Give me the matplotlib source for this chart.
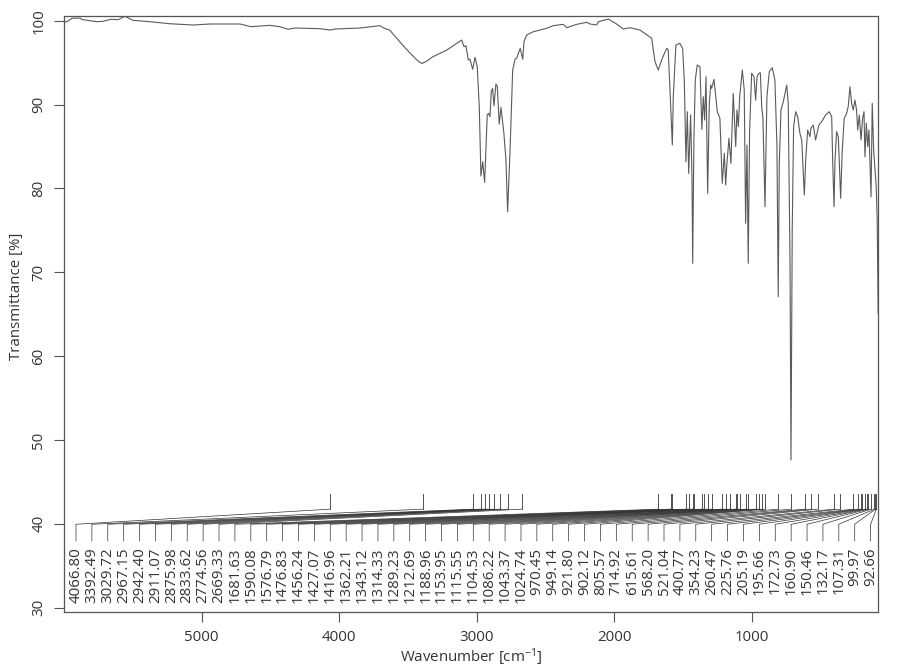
import matplotlib
matplotlib.use('Agg')
import matplotlib.pyplot as plt
import numpy as np

plt.rcParams['font.family'] = ['Open Sans', 'DejaVu Sans']
plt.rcParams['mathtext.default'] = 'regular'

# ---- spectrum (wavenumber in cm-1, transmittance in %) ----
wavenumber = [
    6000, 5980, 5943, 5885, 5870, 5812, 5761, 5718, 5660, 5609,
    5558, 5500, 5354, 5231, 5063, 4940, 4721, 4641, 4503, 4431,
    4372, 4322, 4140, 4067, 4031, 3849, 3703, 3681, 3631, 3558,
    3485, 3427, 3398, 3362, 3318, 3216, 3109, 3092, 3078, 3061,
    3049, 3029, 3012, 2996, 2981, 2969, 2956, 2942, 2923, 2913,
    2903, 2894, 2884, 2874, 2860, 2850, 2836, 2823, 2802, 2787,
    2775, 2758, 2738, 2721, 2709, 2697, 2683, 2665, 2656, 2636,
    2588, 2491, 2443, 2370, 2345, 2273, 2200, 2176, 2127, 2116,
    2043, 1982, 1934, 1885, 1812, 1727, 1703, 1679, 1655, 1618,
    1607, 1594, 1577, 1570, 1551, 1522, 1502, 1490, 1478, 1468,
    1458, 1444, 1434, 1429, 1420, 1410, 1396, 1376, 1362, 1352,
    1342, 1332, 1320, 1308, 1298, 1291, 1274, 1250, 1231, 1214,
    1199, 1189, 1180, 1165, 1151, 1134, 1116, 1107, 1097, 1087,
    1068, 1054, 1044, 1034, 1025, 1015, 1000, 983, 971, 961,
    947, 937, 927, 918, 903, 889, 872, 850, 831, 816,
    807, 799, 787, 770, 745, 734, 721, 714, 705, 695,
    680, 665, 649, 636, 617, 607, 593, 576, 569, 552,
    535, 511, 491, 462, 436, 418, 411, 401, 394, 382,
    370, 363, 353, 341, 327, 309, 298, 285, 273, 261,
    249, 237, 229, 217, 205, 193, 183, 176, 166, 156,
    147, 132, 123, 113, 103, 94, 87, 80,
]
transmittance = [
    99.91, 99.88, 100.29, 100.32, 100.14, 100.00, 99.88, 99.93, 100.17, 100.12,
    100.53, 100.05, 99.85, 99.64, 99.49, 99.61, 99.61, 99.29, 99.45, 99.29,
    98.98, 99.13, 99.05, 98.89, 99.01, 99.13, 99.41, 99.17, 98.86, 97.46,
    96.15, 95.20, 94.90, 95.20, 95.71, 96.51, 97.70, 96.90, 97.02, 95.32,
    95.43, 94.21, 95.64, 94.52, 89.75, 81.48, 83.19, 80.73, 88.76, 88.96,
    88.55, 91.54, 91.94, 89.83, 92.45, 92.21, 87.68, 89.67, 86.57, 83.39,
    77.22, 84.19, 94.12, 95.40, 95.52, 96.11, 96.71, 95.40, 97.50, 98.30,
    98.69, 99.10, 99.41, 99.57, 99.17, 99.57, 99.81, 99.61, 99.49, 99.88,
    100.20, 99.61, 99.01, 99.17, 98.89, 97.90, 95.11, 94.12, 95.32, 96.71,
    96.51, 91.74, 85.18, 90.94, 97.10, 97.31, 96.71, 92.93, 83.19, 89.15,
    81.80, 88.76, 81.40, 71.07, 85.78, 92.93, 94.72, 94.52, 87.05, 90.94,
    88.16, 93.32, 79.42, 90.15, 92.33, 91.94, 93.01, 89.15, 88.36, 80.61,
    84.19, 80.41, 82.98, 85.98, 82.98, 91.34, 84.98, 89.35, 87.36, 90.94,
    94.12, 91.74, 75.84, 85.18, 71.07, 86.97, 93.73, 93.32, 90.54, 93.32,
    93.73, 93.80, 89.75, 88.36, 77.82, 90.94, 93.92, 94.40, 92.93, 84.98,
    67.09, 82.98, 89.35, 90.34, 92.33, 90.15, 71.07, 47.61, 75.04, 87.36,
    89.15, 88.55, 86.57, 85.78, 79.22, 83.39, 86.97, 86.17, 87.17, 87.56,
    85.78, 87.56, 87.96, 88.76, 89.15, 88.55, 83.39, 77.82, 83.39, 86.77,
    86.17, 83.39, 78.82, 84.58, 88.36, 88.96, 89.75, 92.13, 90.15, 89.35,
    90.54, 89.35, 86.97, 88.76, 85.78, 88.36, 89.15, 83.78, 87.77, 84.98,
    86.97, 79.01, 90.15, 84.58, 82.20, 80.21, 76.25, 65.10,
]

# ---- picked peaks ----
peaks = [
    4066.80, 3392.49, 3029.72, 2967.15, 2942.40, 2911.07, 2875.98, 2833.62,
    2774.56, 2669.33, 1681.63, 1590.08, 1576.79, 1476.83, 1456.24, 1427.07,
    1416.96, 1362.21, 1343.12, 1314.33, 1289.23, 1212.69, 1188.96, 1153.95,
    1115.55, 1104.53, 1086.22, 1043.37, 1024.74, 970.45, 949.14, 921.80,
    902.12, 805.57, 714.92, 615.61, 568.20, 521.04, 400.77, 354.23,
    260.47, 225.76, 205.19, 195.66, 172.73, 160.90, 150.46, 132.17,
    107.31, 99.97, 92.66,
]

x_ticks = [1000, 2000, 3000, 4000, 5000]
y_ticks = [30, 40, 50, 60, 70, 80, 90, 100]

W, H = 902, 668
fig = plt.figure(figsize=(W / 100, H / 100), dpi=100)
L, R, T, B = 64.3, 878.3, 15.7, 612.3
ax = fig.add_axes([L / W, 1 - B / H, (R - L) / W, (B - T) / H])

frame_col = '#555555'
text_col = '#333333'

ax.plot(wavenumber, transmittance, color='#5a5a5a', lw=0.8)

ax.set_xlim(5999, 79)
ax.set_ylim(29.45, 100.6)

# peak markers with leader lines to evenly spaced labels
label_pos = np.linspace(5914, 135, len(peaks))
mk_top, mk_bot, lab_y, tick_bot, txt_y = 43.56, 41.75, 39.95, 37.96, 37.15
for p, lp in zip(peaks, label_pos):
    ax.plot([p, p], [mk_top, mk_bot], color='#333333', lw=0.6)
    ax.plot([p, lp, lp], [mk_bot, lab_y, tick_bot], color='#333333', lw=0.5)
    ax.text(lp, txt_y, f'{p:.2f}', rotation=90, ha='center', va='top',
            fontsize=10.8, color=text_col)

ax.set_xticks(x_ticks)
ax.set_yticks(y_ticks)
ax.tick_params(axis='both', direction='out', length=7, width=0.8,
               color=frame_col, labelcolor=text_col, labelsize=10.8)
ax.tick_params(axis='x', pad=6)
ax.tick_params(axis='y', pad=6, labelrotation=90)
for lbl in ax.get_yticklabels():
    lbl.set_va('center')
for s in ax.spines.values():
    s.set_color(frame_col)
    s.set_linewidth(0.9)

fig.text(471 / W, 1 - 657 / H, r'Wavenumber [cm$^{-1}$]', ha='center',
         va='center', fontsize=10.8, color=text_col)
fig.text(17 / W, 1 - 296 / H, 'Transmittance [%]', ha='center', va='center',
         rotation=90, fontsize=10.8, color=text_col)

fig.savefig('out.png', dpi=100)
